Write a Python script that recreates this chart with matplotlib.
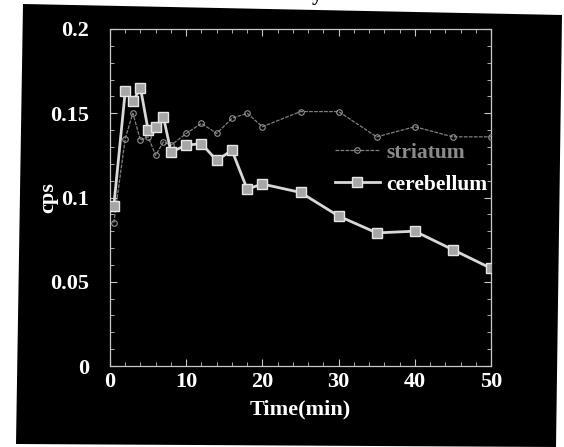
import matplotlib
matplotlib.use("Agg")
import matplotlib.pyplot as plt
from matplotlib.patches import Polygon
from matplotlib.ticker import MultipleLocator

# sampling times (min)
time_min = [0.5, 2, 3, 4, 5, 6, 7, 8, 10, 12, 14, 16, 18, 20, 25, 30, 35, 40, 45, 50]

# counts per second
striatum = [0.085, 0.135, 0.150, 0.134, 0.136, 0.125, 0.133, 0.131, 0.138, 0.144,
            0.138, 0.147, 0.150, 0.142, 0.151, 0.151, 0.136, 0.142, 0.136, 0.136]
cerebellum = [0.095, 0.163, 0.157, 0.165, 0.140, 0.142, 0.148, 0.127, 0.131, 0.132,
              0.122, 0.128, 0.105, 0.108, 0.103, 0.089, 0.079, 0.080, 0.069, 0.058]

series_names = ['striatum', 'cerebellum']
x_ticks = [0, 10, 20, 30, 40, 50]
y_ticks = [0, 0.05, 0.1, 0.15, 0.2]
y_tick_labels = ['0', '0.05', '0.1', '0.15', '0.2']

W, H = 564, 447
fig = plt.figure(figsize=(W / 100, H / 100), dpi=100)
fig.patch.set_facecolor('white')

# scanned black page area (slightly skewed)
corners = [(23, 4), (562, 15), (556, 447), (16, 444)]
page = Polygon([(x / W, 1 - y / H) for x, y in corners], closed=True,
               transform=fig.transFigure, facecolor='black', edgecolor='none', zorder=-10)
fig.patches.append(page)

# cut-off fragment of the title above
fig.text(317 / W, 1.0, 'y', fontsize=15, fontweight='bold', family='Liberation Serif',
         color='black', ha='center', va='baseline')

ax = fig.add_axes([110 / W, 1 - 366 / H, 381 / W, 337 / H])
ax.set_zorder(1)
ax.set_facecolor('black')

ax.plot(time_min, striatum, color='#808080', lw=0.9, ls=(0, (3, 1)), marker='o', ms=4,
        mfc='none', mec='#949494', mew=0.8, label=series_names[0], zorder=3)
ax.plot(time_min, cerebellum, color='#d8d8d8', lw=2.0, marker='s', ms=7,
        mfc='#a6a6a6', mec='#e6e6e6', mew=1.0, label=series_names[1], zorder=4)

ax.set_xlim(0, 50)
ax.set_ylim(0, 0.2)
ax.set_xticks(x_ticks)
ax.set_yticks(y_ticks)
ax.set_yticklabels(y_tick_labels)
ax.xaxis.set_minor_locator(MultipleLocator(2))
ax.yaxis.set_minor_locator(MultipleLocator(0.01))

for sp in ax.spines.values():
    sp.set_color('#c8c8c8')
    sp.set_linewidth(0.9)
    sp.set_linestyle((0, (2, 1)))

ax.tick_params(which='both', direction='in', top=True, right=True, colors='#c8c8c8')
ax.tick_params(which='major', length=5, width=0.8)
ax.tick_params(which='minor', length=3, width=0.6)
ax.tick_params(axis='x', which='major', pad=4)
ax.tick_params(axis='y', which='major', pad=15)
for lab in ax.get_xticklabels() + ax.get_yticklabels():
    lab.set_family('Liberation Serif')
    lab.set_fontweight('bold')
    lab.set_fontsize(16)
    lab.set_color('white')

ax.set_xlabel('Time(min)', family='Liberation Serif', fontweight='bold',
              fontsize=16, color='white', labelpad=6)
ax.set_ylabel('cps', family='Liberation Serif', fontweight='bold',
              fontsize=16, color='white', labelpad=-6)

leg = ax.legend(loc='upper left', bbox_to_anchor=(0.562, 0.695), frameon=False,
                borderpad=0, handlelength=2.1, handletextpad=0.3, labelspacing=0.55,
                prop={'family': 'Liberation Serif', 'weight': 'bold', 'size': 15.5})
leg.get_texts()[0].set_color('#8a8a8a')
leg.get_texts()[1].set_color('white')

fig.savefig('out.png', dpi=100, facecolor=fig.get_facecolor())
